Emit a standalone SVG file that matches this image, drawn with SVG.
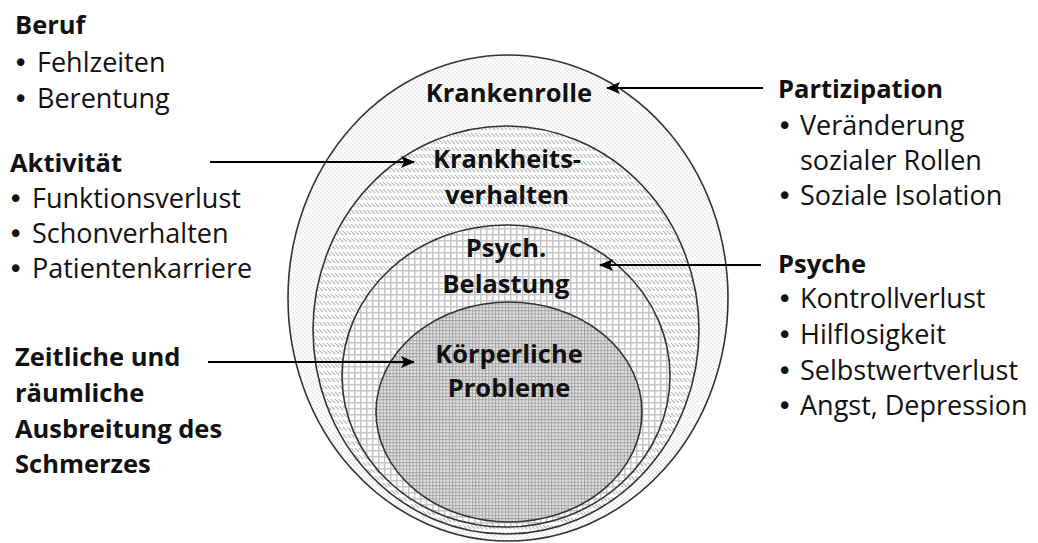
<svg xmlns="http://www.w3.org/2000/svg" width="1038" height="543" viewBox="0 0 1038 543">
<style>
text{font-family:"Open Sans","Noto Sans","Liberation Sans",sans-serif;fill:#111;font-size:27px}
.b{font-weight:bold;font-size:25.5px}
.c{text-anchor:middle}
.bul{font-family:"DejaVu Sans",sans-serif;font-size:26px}
.ring{stroke:#333;stroke-width:1.6}
.arr{stroke:#000;stroke-width:2;fill:none;marker-end:url(#ah)}
</style>
<defs>
<marker id="ah" viewBox="0 0 14 12" refX="13" refY="6" markerWidth="14" markerHeight="12" markerUnits="userSpaceOnUse" orient="auto">
<path d="M0,0 L14,6 L0,12 L3,6 Z" fill="#000"/>
</marker>
<pattern id="dots" width="4" height="4" patternUnits="userSpaceOnUse">
<rect width="4" height="4" fill="#fff"/>
<rect x="0.5" y="0.5" width="1.3" height="1.3" fill="#d2d2d2"/>
<rect x="2.5" y="2.5" width="1.3" height="1.3" fill="#dedede"/>
</pattern>
<pattern id="hatch" width="4" height="7" patternUnits="userSpaceOnUse">
<rect width="4" height="7" fill="#fff"/>
<path d="M-1,0 L3,4 M3,0 L7,4" stroke="#b8b8b8" stroke-width="1.2"/>
</pattern>
<pattern id="grid" width="6" height="6" patternUnits="userSpaceOnUse">
<rect width="6" height="6" fill="#fff"/>
<path d="M0.75,0 V6 M0,0.75 H6" stroke="#c6c6c6" stroke-width="1.5"/>
</pattern>
<pattern id="fgrid" width="3.3" height="3.3" patternUnits="userSpaceOnUse">
<rect width="3.3" height="3.3" fill="#e6e6e6"/>
<path d="M0.5,0 V3.3 M0,0.5 H3.3" stroke="#a3a3a3" stroke-width="1"/>
</pattern>
</defs>
<rect width="1038" height="543" fill="#fff"/>

<g id="krankenrolle">
<ellipse class="ring" cx="508" cy="298" rx="220" ry="243" fill="url(#dots)"/>
<text class="b c" x="509" y="102">Krankenrolle</text>
</g>
<g id="krankheitsverhalten">
<ellipse class="ring" cx="506" cy="330" rx="193" ry="204" fill="url(#hatch)"/>
<text class="b c" x="507" y="168">Krankheits-</text>
<text class="b c" x="507" y="204">verhalten</text>
</g>
<g id="psych-belastung">
<ellipse class="ring" cx="506" cy="376" rx="164" ry="151" fill="url(#grid)"/>
<text class="b c" x="506" y="257">Psych.</text>
<text class="b c" x="506" y="293">Belastung</text>
</g>
<g id="koerperliche-probleme">
<ellipse class="ring" cx="509" cy="412" rx="133" ry="110" fill="url(#fgrid)"/>
<text class="b c" x="509" y="363">Körperliche</text>
<text class="b c" x="509" y="397">Probleme</text>
</g>

<g id="beruf">
<text class="b" x="15" y="34">Beruf</text>
<text y="72"><tspan class="bul" x="13">•</tspan><tspan x="37">Fehlzeiten</tspan></text>
<text y="108"><tspan class="bul" x="13">•</tspan><tspan x="37">Berentung</tspan></text>
</g>
<g id="aktivitaet">
<text class="b" x="10" y="172">Aktivität</text>
<text y="208"><tspan class="bul" x="8">•</tspan><tspan x="32">Funktionsverlust</tspan></text>
<text y="243"><tspan class="bul" x="8">•</tspan><tspan x="32">Schonverhalten</tspan></text>
<text y="278"><tspan class="bul" x="8">•</tspan><tspan x="32">Patientenkarriere</tspan></text>
</g>
<g id="ausbreitung">
<text class="b" x="15" y="366">Zeitliche und</text>
<text class="b" x="15" y="402">räumliche</text>
<text class="b" x="15" y="438">Ausbreitung des</text>
<text class="b" x="15" y="473">Schmerzes</text>
</g>
<g id="partizipation">
<text class="b" x="778" y="98">Partizipation</text>
<text y="135"><tspan class="bul" x="777">•</tspan><tspan x="800">Veränderung</tspan></text>
<text x="800" y="170">sozialer Rollen</text>
<text y="205"><tspan class="bul" x="777">•</tspan><tspan x="800">Soziale Isolation</tspan></text>
</g>
<g id="psyche">
<text class="b" x="778" y="273">Psyche</text>
<text y="308"><tspan class="bul" x="777">•</tspan><tspan x="800">Kontrollverlust</tspan></text>
<text y="344"><tspan class="bul" x="777">•</tspan><tspan x="800">Hilflosigkeit</tspan></text>
<text y="380"><tspan class="bul" x="777">•</tspan><tspan x="800">Selbstwertverlust</tspan></text>
<text y="415"><tspan class="bul" x="777">•</tspan><tspan x="800">Angst, Depression</tspan></text>
</g>

<g id="connectors">
<path class="arr" d="M763,88 H607"/>
<path class="arr" d="M210,162 H414"/>
<path class="arr" d="M761,265 H600"/>
<path class="arr" d="M208,362 H414"/>
</g>
</svg>
